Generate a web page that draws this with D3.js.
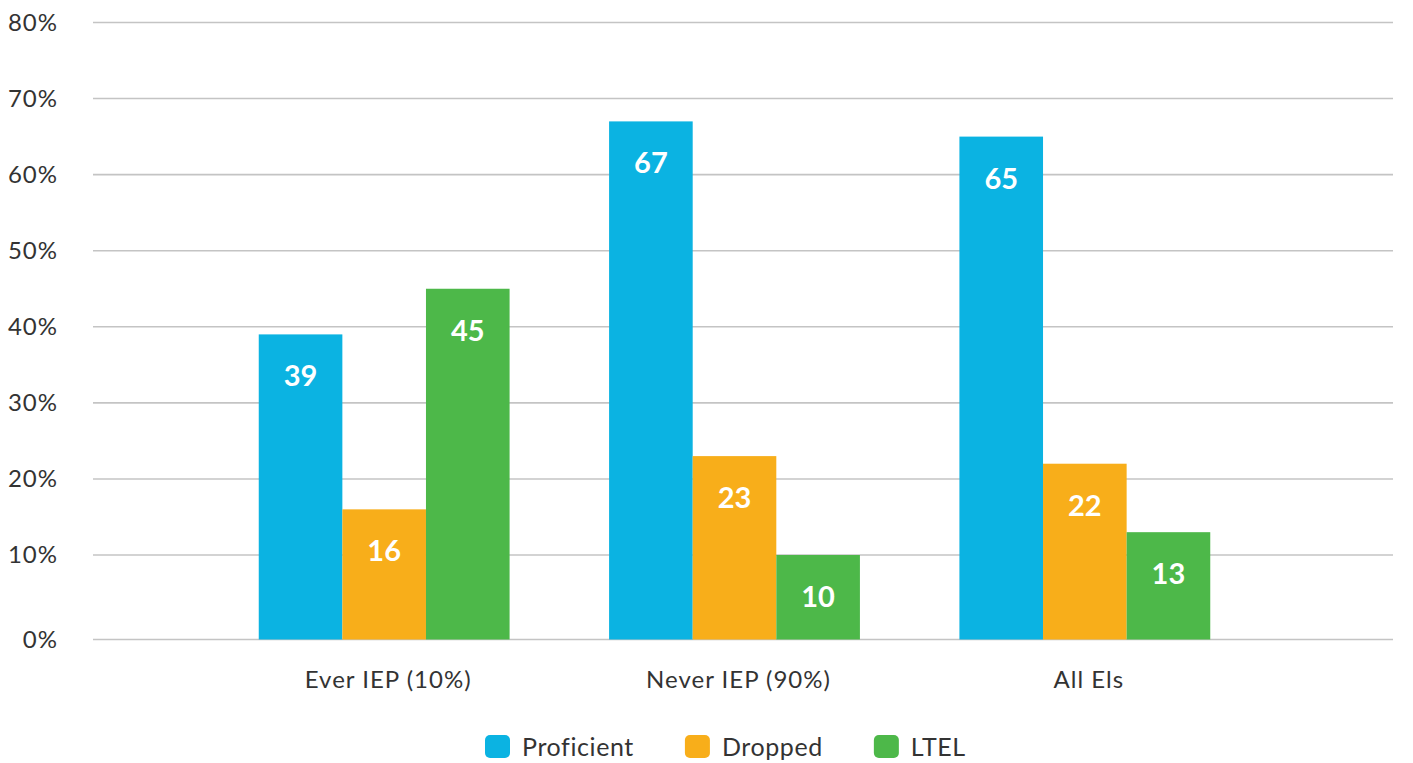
<!DOCTYPE html>
<html>
<head>
<meta charset="utf-8">
<script src="https://cdn.jsdelivr.net/npm/d3@7"></script>
<style>
  html, body { margin: 0; padding: 0; background: #fff; }
  svg { display: block; font-family: Lato, "Open Sans", sans-serif; }
</style>
</head>
<body>
<svg id="chart" width="1413" height="763"></svg>
<script>
const categories = ["Ever IEP (10%)", "Never IEP (90%)", "All Els"];
const seriesNames = ["Proficient", "Dropped", "LTEL"];
const proficient = [39, 67, 65];
const dropped = [16, 23, 22];
const ltel = [45, 10, 13];
const yTicks = [0, 10, 20, 30, 40, 50, 60, 70, 80];
const colors = ["#0BB3E2", "#F8AE1A", "#4DB849"];

const seriesValues = [proficient, dropped, ltel];
const rows = categories.map((c, i) => ({
  category: c,
  values: seriesNames.map((s, j) => ({ series: s, value: seriesValues[j][i], color: colors[j] }))
}));

const svg = d3.select("#chart");
const plotLeft = 93, plotRight = 1393;

const y = d3.scaleLinear().domain([0, 10, 80]).range([639.5, 555, 22.5]);
const x0 = d3.scaleBand().domain(categories).range([209, 1260]).paddingInner(0.284).paddingOuter(0.142);
const x1 = d3.scaleBand().domain(seriesNames).range([0, x0.bandwidth()]).padding(0);

// gridlines
svg.append("g").selectAll("line").data(yTicks).join("line")
  .attr("x1", plotLeft).attr("x2", plotRight)
  .attr("y1", d => y(d)).attr("y2", d => y(d))
  .attr("stroke", "#c4c4c4").attr("stroke-width", 1.6);

// y axis labels
const yAxis = d3.axisLeft(y).tickValues(yTicks).tickFormat(d => d + "%").tickSize(0).tickPadding(0);
const gy = svg.append("g").attr("transform", "translate(58,0)").call(yAxis);
gy.select(".domain").remove();
gy.selectAll("text").attr("font-size", 24).attr("fill", "#333").attr("letter-spacing", "1px")
  .attr("font-family", "Lato, sans-serif");

// bars
const groups = svg.append("g").selectAll("g").data(rows).join("g")
  .attr("transform", d => `translate(${x0(d.category)},0)`);
groups.selectAll("rect").data(d => d.values).join("rect")
  .attr("x", d => x1(d.series))
  .attr("width", x1.bandwidth())
  .attr("y", d => y(d.value))
  .attr("height", d => y(0) - y(d.value))
  .attr("fill", d => d.color);
groups.selectAll("text").data(d => d.values).join("text")
  .attr("x", d => x1(d.series) + x1.bandwidth() / 2)
  .attr("y", d => y(d.value) + 52)
  .attr("text-anchor", "middle")
  .attr("font-size", 29).attr("font-weight", 700).attr("fill", "#fff")
  .text(d => d.value);

// x axis labels
const xAxis = d3.axisBottom(x0).tickSize(0).tickPadding(0);
const gx = svg.append("g").attr("transform", "translate(4,671)").call(xAxis);
gx.select(".domain").remove();
gx.selectAll("text").attr("font-size", 24).attr("fill", "#333").attr("letter-spacing", "1px")
  .attr("font-family", "Lato, sans-serif");

// legend
const legend = svg.append("g").attr("transform", "translate(485,0)");
let cx = 0;
seriesNames.forEach((s, i) => {
  const g = legend.append("g").attr("transform", `translate(${cx},0)`);
  g.append("rect").attr("x", 0).attr("y", 735).attr("width", 25).attr("height", 23).attr("rx", 5).attr("fill", colors[i]);
  const t = g.append("text").attr("x", 37).attr("y", 756).attr("font-size", 25)
    .attr("letter-spacing", "0.6px").attr("fill", "#333").text(s);
  const w = t.node().getComputedTextLength();
  cx += 37 + w + 51;
});
</script>
</body>
</html>
